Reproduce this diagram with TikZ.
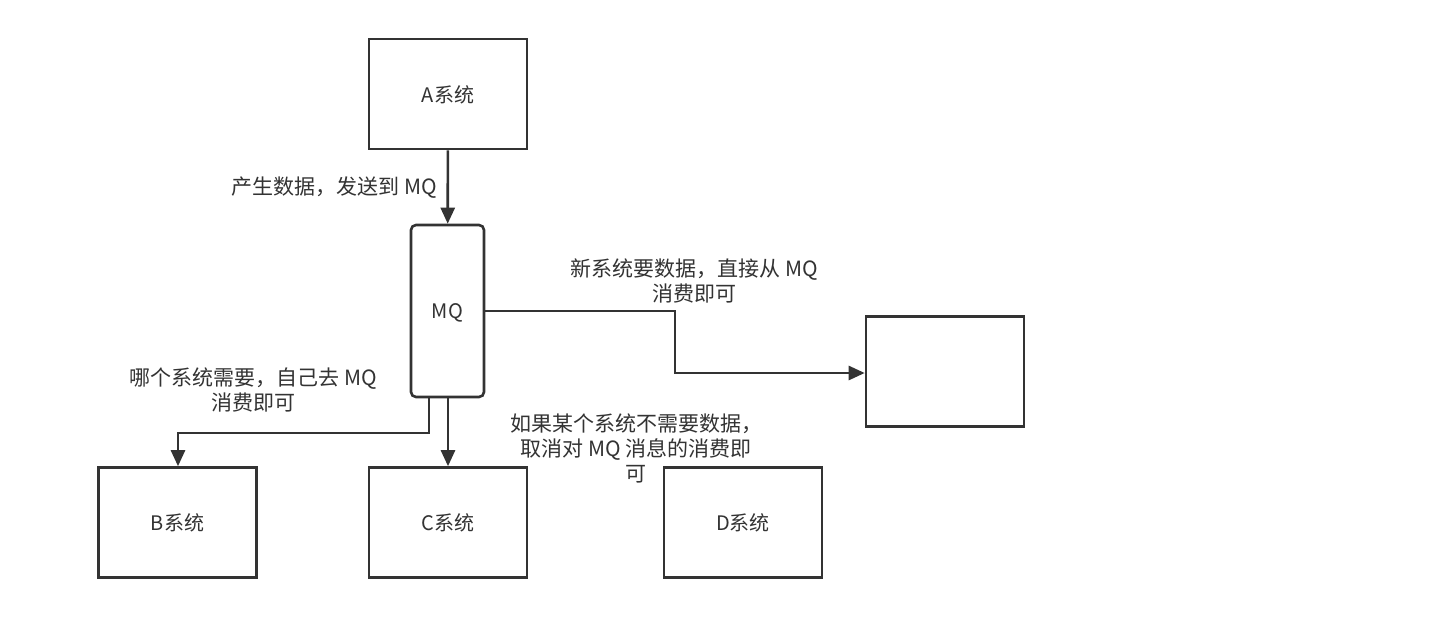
\documentclass[tikz,border=0pt]{standalone}
\usepackage{fontspec}
\setmainfont{Noto Sans CJK SC}
\usetikzlibrary{arrows.meta}
\definecolor{ink}{HTML}{333333}
\begin{document}
\begin{tikzpicture}[x=1pt,y=-1pt,
  sysbox/.style={draw=ink,line width=2.6pt,minimum width=158pt,minimum height=110pt,inner sep=0pt,text depth=-6pt,font=\fontsize{20}{24}\selectfont,text=ink},
  mqbox/.style={draw=ink,line width=2.6pt,rounded corners=5pt,minimum width=73pt,minimum height=172pt,inner sep=0pt,text depth=-6pt,font=\fontsize{20}{24}\selectfont,text=ink},
  conn/.style={draw=ink,line width=2.6pt,-{Triangle[length=16pt,width=14pt]}},
  lbl/.style={font=\fontsize{21}{25}\selectfont,text=ink,align=center,inner sep=0pt}]
\useasboundingbox (0,0) rectangle (1451,627);
\fill[white] (0,0) rectangle (1451,627);
\node[sysbox] (A) at (448,94) {A系统};
\node[mqbox] (MQ) at (447.5,311) {MQ};
\node[sysbox] (N) at (945,371.5) {};
\node[sysbox] (B) at (177.5,522.5) {B系统};
\node[sysbox] (C) at (448,522.5) {C系统};
\node[sysbox] (D) at (743,522.5) {D系统};
\coordinate (mqb) at (429,397);
\draw[conn] (A) -- (MQ);
\draw[conn] (MQ.east) -- (675,311) -- (675,373) -- (N.west |- 0,373);
\draw[conn] (mqb) -- (429,433) -- (178,433) -- (B.north -| 178,0);
\draw[conn] (MQ.south -| C.north) -- (C.north);
\node[lbl,anchor=east] (l1) at (437,188) {产生数据，发送到 MQ};
\node[lbl] (l2) at (694,281) {新系统要数据，直接从 MQ\\消费即可};
\node[lbl] (l3) at (253,390) {哪个系统需要，自己去 MQ\\消费即可};
\node[lbl] (l4) at (636,448) {如果某个系统不需要数据，\\取消对 MQ 消息的消费即\\可};
\end{tikzpicture}
\end{document}
